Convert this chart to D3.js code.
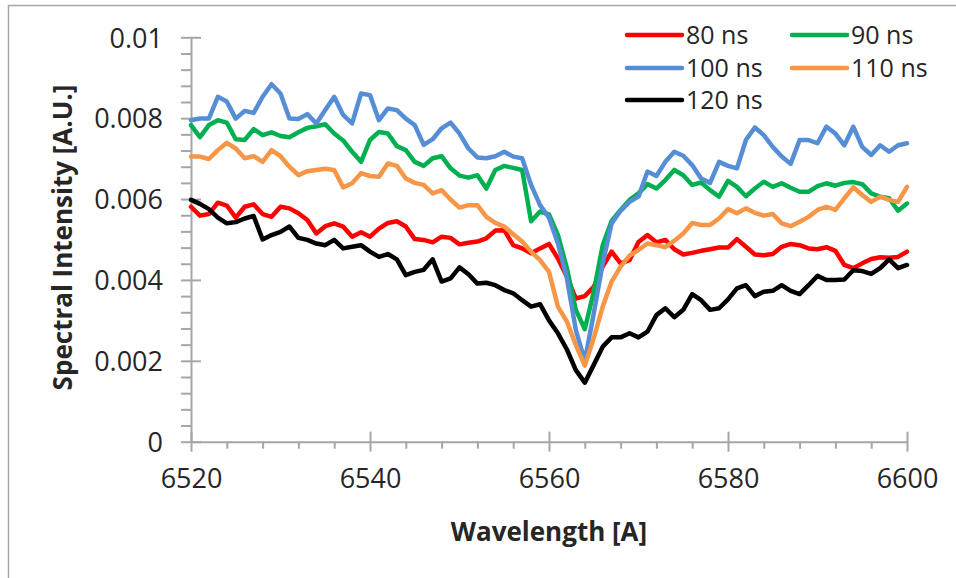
<!DOCTYPE html>
<html>
<head>
<meta charset="utf-8">
<script src="https://cdn.jsdelivr.net/npm/d3@7"></script>
<style>
  html, body { margin: 0; padding: 0; background: #fff; }
  svg { display: block; }
  text { font-family: "Open Sans", "Noto Sans", sans-serif; fill: #262626; }
</style>
</head>
<body>
<svg id="chart" width="956" height="578"></svg>
<script>
// Wavelength samples [Å]
const wavelength = [6520,6521,6522,6523,6524,6525,6526,6527,6528,6529,6530,6531,6532,6533,6534,6535,6536,6537,6538,6539,
  6540,6541,6542,6543,6544,6545,6546,6547,6548,6549,6550,6551,6552,6553,6554,6555,6556,6557,6558,6559,
  6560,6561,6562,6563,6564,6565,6566,6567,6568,6569,6570,6571,6572,6573,6574,6575,6576,6577,6578,6579,
  6580,6581,6582,6583,6584,6585,6586,6587,6588,6589,6590,6591,6592,6593,6594,6595,6596,6597,6598,6599,6600];

// Spectral intensity per delay time [A.U.]
const s80 = [0.00581,0.00559,0.00563,0.00591,0.00584,0.00554,0.00581,0.00587,0.00563,0.00556,
  0.00581,0.00577,0.00565,0.00548,0.00515,0.00533,0.00540,0.00532,0.00507,0.00518,
  0.00507,0.00527,0.00541,0.00545,0.00532,0.00501,0.00499,0.00493,0.00507,0.00504,
  0.00488,0.00492,0.00495,0.00503,0.00522,0.00523,0.00486,0.00478,0.00466,0.00478,
  0.00489,0.00453,0.00408,0.00354,0.00360,0.00383,0.00433,0.00470,0.00441,0.00449,
  0.00494,0.00511,0.00493,0.00499,0.00476,0.00463,0.00467,0.00472,0.00476,0.00480,
  0.00480,0.00501,0.00482,0.00463,0.00461,0.00464,0.00482,0.00489,0.00486,0.00478,
  0.00476,0.00481,0.00472,0.00437,0.00429,0.00441,0.00452,0.00456,0.00455,0.00457,0.00470];

const s90 = [0.00783,0.00753,0.00783,0.00795,0.00789,0.00748,0.00746,0.00773,0.00758,0.00765,
  0.00756,0.00753,0.00765,0.00776,0.00780,0.00785,0.00762,0.00745,0.00717,0.00692,
  0.00746,0.00766,0.00762,0.00731,0.00721,0.00692,0.00682,0.00701,0.00706,0.00676,
  0.00658,0.00653,0.00659,0.00626,0.00672,0.00682,0.00677,0.00672,0.00545,0.00569,
  0.00562,0.00511,0.00429,0.00326,0.00278,0.00371,0.00486,0.00546,0.00573,0.00598,
  0.00614,0.00637,0.00626,0.00647,0.00672,0.00659,0.00635,0.00641,0.00622,0.00606,
  0.00645,0.00630,0.00607,0.00626,0.00643,0.00630,0.00639,0.00628,0.00618,0.00618,
  0.00632,0.00639,0.00633,0.00640,0.00642,0.00637,0.00614,0.00606,0.00602,0.00571,0.00589];

const s100 = [0.00795,0.00799,0.00799,0.00853,0.00841,0.00799,0.00818,0.00813,0.00853,0.00884,
  0.00861,0.00799,0.00798,0.00810,0.00787,0.00820,0.00853,0.00808,0.00787,0.00861,
  0.00857,0.00795,0.00824,0.00820,0.00799,0.00783,0.00734,0.00748,0.00775,0.00789,
  0.00762,0.00725,0.00703,0.00701,0.00706,0.00717,0.00705,0.00701,0.00635,0.00585,
  0.00554,0.00490,0.00404,0.00276,0.00200,0.00317,0.00441,0.00540,0.00571,0.00593,
  0.00606,0.00668,0.00657,0.00692,0.00717,0.00707,0.00684,0.00651,0.00640,0.00692,
  0.00682,0.00676,0.00746,0.00777,0.00758,0.00729,0.00705,0.00687,0.00746,0.00746,
  0.00738,0.00779,0.00762,0.00733,0.00779,0.00729,0.00709,0.00733,0.00717,0.00733,0.00738];

const s110 = [0.00705,0.00705,0.00699,0.00721,0.00739,0.00725,0.00701,0.00706,0.00692,0.00721,
  0.00706,0.00680,0.00659,0.00669,0.00672,0.00675,0.00672,0.00629,0.00639,0.00664,
  0.00657,0.00655,0.00688,0.00682,0.00651,0.00640,0.00635,0.00614,0.00622,0.00599,
  0.00579,0.00585,0.00585,0.00556,0.00541,0.00532,0.00513,0.00495,0.00470,0.00449,
  0.00420,0.00334,0.00297,0.00239,0.00188,0.00256,0.00334,0.00396,0.00433,0.00460,
  0.00474,0.00490,0.00486,0.00481,0.00497,0.00515,0.00541,0.00536,0.00536,0.00552,
  0.00575,0.00565,0.00577,0.00566,0.00559,0.00563,0.00540,0.00533,0.00544,0.00556,
  0.00573,0.00581,0.00573,0.00602,0.00629,0.00610,0.00593,0.00606,0.00598,0.00593,0.00630];

const s120 = [0.00598,0.00588,0.00575,0.00554,0.00540,0.00543,0.00552,0.00558,0.00500,0.00511,
  0.00519,0.00532,0.00504,0.00499,0.00490,0.00486,0.00499,0.00478,0.00482,0.00486,
  0.00470,0.00457,0.00464,0.00451,0.00412,0.00420,0.00425,0.00451,0.00396,0.00404,
  0.00431,0.00414,0.00391,0.00393,0.00387,0.00375,0.00367,0.00350,0.00334,0.00340,
  0.00300,0.00268,0.00228,0.00177,0.00146,0.00190,0.00235,0.00258,0.00258,0.00268,
  0.00258,0.00272,0.00313,0.00330,0.00308,0.00326,0.00365,0.00350,0.00326,0.00330,
  0.00352,0.00379,0.00387,0.00360,0.00371,0.00373,0.00387,0.00373,0.00365,0.00387,
  0.00410,0.00400,0.00400,0.00401,0.00424,0.00422,0.00415,0.00429,0.00451,0.00429,0.00437];

const seriesNames = ["80 ns", "90 ns", "100 ns", "110 ns", "120 ns"];
const seriesValues = [s80, s90, s100, s110, s120];
const seriesColors = ["#ff0000", "#00b050", "#558ed5", "#f79646", "#000000"];

const xMajorTicks = [6520, 6540, 6560, 6580, 6600];
const yMajorTicks = [0, 0.002, 0.004, 0.006, 0.008, 0.01];

const svg = d3.select("#chart");
const plot = { left: 191, right: 907, top: 37.3, bottom: 441.7 };

const x = d3.scaleLinear().domain([6520, 6600]).range([plot.left, plot.right]);
const y = d3.scaleLinear().domain([0, 0.01]).range([plot.bottom, plot.top]);

// outer chart frame
svg.append("rect")
  .attr("x", 8.5).attr("y", 5.5)
  .attr("width", 1000).attr("height", 1000)
  .attr("fill", "none").attr("stroke", "#a6a6a6").attr("stroke-width", 1.5);

const axisColor = "#a6a6a6";

// x axis: minor ticks, then major crossing ticks with labels
const xMinor = d3.range(6520, 6601, 4).filter(v => !xMajorTicks.includes(v));
const gxMinor = svg.append("g").attr("transform", `translate(0,${plot.bottom})`)
  .call(d3.axisBottom(x).tickValues(xMinor).tickSize(7).tickFormat(""));
const gx = svg.append("g").attr("transform", `translate(0,${plot.bottom})`)
  .call(d3.axisBottom(x).tickValues(xMajorTicks).tickSizeInner(10).tickSizeOuter(0).tickPadding(18).tickFormat(d3.format("d")));
gx.selectAll(".tick line").attr("y1", -10);
gx.selectAll(".tick text").attr("font-size", 27).attr("dy", "0.71em").attr("y", 27);

// y axis
const yMinor = d3.range(0, 26).map(i => i * 0.0004).filter(v => !yMajorTicks.some(t => Math.abs(t - v) < 1e-9));
const gyMinor = svg.append("g").attr("transform", `translate(${plot.left},0)`)
  .call(d3.axisLeft(y).tickValues(yMinor).tickSize(10).tickFormat(""));
const gy = svg.append("g").attr("transform", `translate(${plot.left},0)`)
  .call(d3.axisLeft(y).tickValues(yMajorTicks).tickSizeInner(10).tickSizeOuter(0)
    .tickFormat(d => d === 0 ? "0" : String(+d.toFixed(3))));
gy.selectAll(".tick line").attr("x1", 10);
gy.selectAll(".tick text").attr("font-size", 27).attr("x", -28).attr("dy", "0.36em");

[gxMinor, gx, gyMinor, gy].forEach(g => {
  g.selectAll(".domain").attr("stroke", axisColor).attr("stroke-width", 2);
  g.selectAll(".tick line").attr("stroke", axisColor).attr("stroke-width", 2);
  g.selectAll("text").attr("fill", "#262626").attr("font-family", '"Open Sans", sans-serif');
});
gxMinor.select(".domain").remove();
gyMinor.select(".domain").remove();

// axis titles
svg.append("text")
  .attr("x", (plot.left + plot.right) / 2).attr("y", 541)
  .attr("text-anchor", "middle").attr("font-size", 26).attr("font-weight", "bold")
  .text("Wavelength [A]");
svg.append("text")
  .attr("transform", `translate(72,${(plot.top + plot.bottom) / 2 - 2}) rotate(-90)`)
  .attr("text-anchor", "middle").attr("font-size", 26).attr("font-weight", "bold")
  .text("Spectral Intensity [A.U.]");

// spectra
const line = d3.line()
  .x((d, i) => x(wavelength[i]))
  .y(d => y(d));

svg.append("g").selectAll("path")
  .data(seriesValues)
  .join("path")
  .attr("d", line)
  .attr("fill", "none")
  .attr("stroke", (d, i) => seriesColors[i])
  .attr("stroke-width", 4.5)
  .attr("stroke-linejoin", "round")
  .attr("stroke-linecap", "round");

// legend (two columns)
const legend = svg.append("g");
const legendPos = [[627, 35], [792, 35], [627, 68], [792, 68], [627, 100]];
seriesNames.forEach((name, i) => {
  const [lx, ly] = legendPos[i];
  legend.append("line")
    .attr("x1", lx).attr("x2", lx + 55).attr("y1", ly).attr("y2", ly)
    .attr("stroke", seriesColors[i]).attr("stroke-width", 4.5).attr("stroke-linecap", "round");
  legend.append("text")
    .attr("x", lx + 59).attr("y", ly).attr("dy", "0.36em")
    .attr("font-size", 25)
    .text(name);
});
</script>
</body>
</html>
